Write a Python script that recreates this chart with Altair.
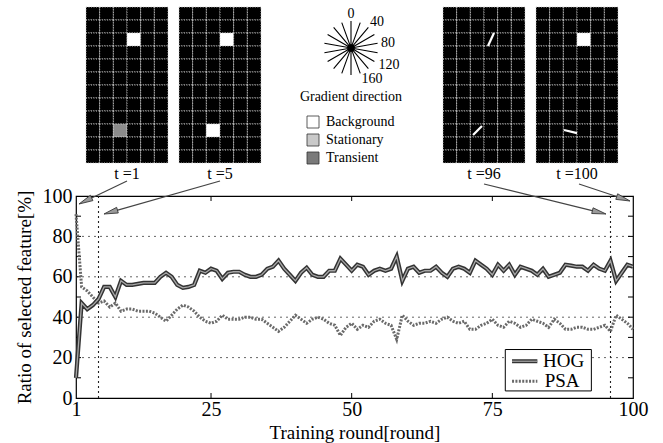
import math
import altair as alt
import pandas as pd

# ---------------- data ----------------
ROUNDS = list(range(1, 101))
HOG = [10, 47, 44, 46, 49, 55, 55, 50, 58, 56,
       56, 56.5, 57, 57, 57, 60, 62, 60, 56, 54.5,
       55, 56, 63, 62, 64, 63, 59, 62, 62.5, 62.5,
       61, 60, 60, 61, 64, 65, 68, 64, 61, 58,
       62, 64.5, 61, 60, 60, 63, 63, 69, 66, 63,
       66, 65, 61, 63, 64, 63, 64, 70, 58, 64,
       65, 62, 63, 63, 65, 62, 60, 64, 65, 64,
       62, 68, 66, 64, 61, 66, 63, 66, 61, 65,
       64, 63, 61, 64, 60, 61, 62, 66, 65.5, 65,
       65, 63, 66, 64, 63, 68, 58, 62, 66, 65]
PSA = [91, 55, 53, 50, 47, 48, 45, 47, 43, 44,
       44, 43, 43, 43, 42, 40, 38, 41, 44, 46,
       45, 43, 40, 38, 37, 38, 41, 39, 39, 39,
       40, 40, 39, 39, 37, 35, 33, 35, 38, 41,
       39, 37, 39, 40, 39, 37, 36, 31, 35, 37,
       34, 36, 35, 38, 39, 37, 36, 29, 41, 38,
       36, 37, 37, 38, 37, 39, 40, 38, 37, 38,
       34, 34, 36, 37, 39, 36, 35, 38, 37, 35,
       36, 39, 38, 37, 35, 39, 37, 34, 34, 35,
       35, 34, 34, 35, 36, 33, 41, 39, 37, 34]
SERIES = ["HOG", "PSA"]
X_TICKS = [1, 25, 50, 75, 100]
Y_TICKS = [0, 20, 40, 60, 80, 100]
GRID_Y = [20, 40, 60, 80]
MARK_ROUNDS = [5, 96]
MINOR_Y = [10, 20, 30, 40, 50, 60, 70, 80, 90]
MINOR_X = [25, 50, 75]

IMG_LABELS = ["t =1", "t =5", "t =96", "t =100"]
LEGEND_ITEMS = ["Background", "Stationary", "Transient"]
LEGEND_FILLS = ["white", "#c9c9c9", "#7a7a7a"]
GRAD_LABELS = ["0", "40", "80", "120", "160"]
GRAD_ANGLES = [0, 20, 40, 60, 80, 100, 120, 140, 160]

FONT = "Liberation Serif"

# ---------------- layout (pixels of the 663x443 page) ----------------
PL, PR, PT, PB = 76, 633, 196, 398
W, H = PR - PL, PB - PT


def xd(px):
    return 1 + (px - PL) * 99 / W


def yd(py):
    return (PB - py) * 100 / H


xs = alt.Scale(domain=[1, 100], nice=False, zero=False)
ys = alt.Scale(domain=[0, 100], nice=False, zero=False)

X_AXIS = alt.Axis(values=X_TICKS, title="Training round[round]", ticks=False, domain=False,
                  grid=False, labelFontSize=20, labelFont=FONT, labelColor="black",
                  labelPadding=1, labelFlush=False, format="d",
                  titleFont=FONT, titleFontSize=19, titleFontWeight="normal",
                  titleColor="black", titlePadding=4)
Y_AXIS = alt.Axis(values=Y_TICKS, title="Ratio of selected feature[%]", ticks=False,
                  domain=False, grid=False, labelFontSize=20, labelFont=FONT,
                  labelColor="black", labelPadding=4, labelFlush=False, format="d",
                  titleFont=FONT, titleFontSize=19, titleFontWeight="normal",
                  titleColor="black", titlePadding=8)


def XE(f="x"):
    return alt.X(f"{f}:Q", scale=xs, axis=X_AXIS)


def YE(f="y"):
    return alt.Y(f"{f}:Q", scale=ys, axis=Y_AXIS)


layers = []

# grid lines
df_grid = pd.DataFrame({"y": GRID_Y, "x": 1, "x2": 100})
layers.append(alt.Chart(df_grid).mark_rule(color="#555", strokeDash=[2, 4], strokeWidth=0.9)
              .encode(x=XE(), x2="x2:Q", y=YE()))

# vertical dashed markers
df_vm = pd.DataFrame({"x": MARK_ROUNDS, "y": 0, "y2": 100})
layers.append(alt.Chart(df_vm).mark_rule(color="#222", strokeDash=[2, 3], strokeWidth=1.1)
              .encode(x=XE(), y=YE(), y2="y2:Q"))

# inner ticks
tick_len_x = 5 * 99 / W
tick_len_y = 5 * 100 / H
df_ty = pd.DataFrame({"y": MINOR_Y * 2,
                      "x": [1] * len(MINOR_Y) + [100 - tick_len_x] * len(MINOR_Y)})
df_ty["x2"] = df_ty["x"] + tick_len_x
layers.append(alt.Chart(df_ty).mark_rule(color="black", strokeWidth=1)
              .encode(x=XE(), x2="x2:Q", y=YE()))
df_tx = pd.DataFrame({"x": MINOR_X * 2,
                      "y": [0] * len(MINOR_X) + [100 - tick_len_y] * len(MINOR_X)})
df_tx["y2"] = df_tx["y"] + tick_len_y
layers.append(alt.Chart(df_tx).mark_rule(color="black", strokeWidth=1)
              .encode(x=XE(), y=YE(), y2="y2:Q"))

# series
df_hog = pd.DataFrame({"x": ROUNDS, "y": HOG})
df_psa = pd.DataFrame({"x": ROUNDS, "y": PSA})
layers.append(alt.Chart(df_psa).mark_line(color="#6a6a6a", strokeWidth=3, strokeDash=[2, 1.4])
              .encode(x=XE(), y=YE()))
layers.append(alt.Chart(df_hog).mark_line(color="#333", strokeWidth=4.2)
              .encode(x=XE(), y=YE()))
layers.append(alt.Chart(df_hog).mark_line(color="#a8a8a8", strokeWidth=1.3)
              .encode(x=XE(), y=YE()))

# in-plot legend
LEG_BOX = dict(x=77.3, x2=92.6, y=3.5, y2=24)
layers.append(alt.Chart(pd.DataFrame([LEG_BOX])).mark_rect(fill="white", stroke="black", strokeWidth=1)
              .encode(x=XE(), x2="x2:Q", y=YE(), y2="y2:Q"))
LEG_Y = [18.2, 8.3]
df_ls = pd.DataFrame({"x": [78.5, 83.0], "y": LEG_Y[0]})
layers.append(alt.Chart(df_ls).mark_line(color="#333", strokeWidth=4).encode(x=XE(), y=YE()))
layers.append(alt.Chart(df_ls).mark_line(color="#a8a8a8", strokeWidth=1.2).encode(x=XE(), y=YE()))
df_lp = pd.DataFrame({"x": [78.5, 83.0], "y": LEG_Y[1]})
layers.append(alt.Chart(df_lp).mark_line(color="#6a6a6a", strokeWidth=3, strokeDash=[2, 1.4])
              .encode(x=XE(), y=YE()))
df_lt = pd.DataFrame({"x": [84.0, 84.3], "y": LEG_Y, "t": SERIES})
layers.append(alt.Chart(df_lt).mark_text(font=FONT, fontSize=19, align="left", baseline="middle",
                                         color="black")
              .encode(x=XE(), y=YE(), text="t:N"))

# ---------------- top pictures ----------------
IMG_LEFT_PX = [86, 179, 443, 536]
IMG_TOP_PX, IMG_W_PX, IMG_H_PX = 7, 82, 156
N_COLS, N_ROWS = 6, 12
SPECIAL = {(0, 3, 2): "white", (0, 2, 9): "#8c8c8c",
           (1, 3, 2): "white", (1, 2, 9): "white",
           (3, 3, 2): "white"}
cw, ch = IMG_W_PX / N_COLS, IMG_H_PX / N_ROWS
rows = []
for i, lx in enumerate(IMG_LEFT_PX):
    for c in range(N_COLS):
        for r in range(N_ROWS):
            rows.append({"x": xd(lx + c * cw), "x2": xd(lx + (c + 1) * cw),
                         "y": yd(IMG_TOP_PX + r * ch), "y2": yd(IMG_TOP_PX + (r + 1) * ch),
                         "fill": SPECIAL.get((i, c, r), "black")})
df_cells = pd.DataFrame(rows)
layers.append(alt.Chart(df_cells).mark_rect(stroke="#d0d0d0", strokeWidth=1, strokeDash=[1, 1.5])
              .encode(x=XE(), x2="x2:Q", y=YE(), y2="y2:Q",
                      fill=alt.Fill("fill:N", scale=None)))

GRAD_SEGMENTS = [(2, 3, 2, 0.29, 1.0, 0.73, 0.0),
                 (2, 2, 9, 0.2, 0.85, 0.85, 0.15),
                 (3, 2, 9, 0.05, 0.46, 1.0, 0.7)]
seg = []
for (i, c, r, fx1, fy1, fx2, fy2) in GRAD_SEGMENTS:
    lx = IMG_LEFT_PX[i] + c * cw
    ty = IMG_TOP_PX + r * ch
    seg.append({"x": xd(lx + fx1 * cw), "y": yd(ty + fy1 * ch),
                "x2": xd(lx + fx2 * cw), "y2": yd(ty + fy2 * ch)})
layers.append(alt.Chart(pd.DataFrame(seg)).mark_rule(color="white", strokeWidth=2.2)
              .encode(x=XE(), x2="x2:Q", y=YE(), y2="y2:Q"))

df_il = pd.DataFrame({"x": [xd(lx + IMG_W_PX / 2) for lx in IMG_LEFT_PX],
                      "y": yd(174), "t": IMG_LABELS})
layers.append(alt.Chart(df_il).mark_text(font=FONT, fontSize=16, baseline="middle", color="black")
              .encode(x=XE(), y=YE(), text="t:N"))

# gradient direction star
STAR_C = (351, 48)
STAR_R = 27
path = "".join(
    "M{:.3f},{:.3f}L{:.3f},{:.3f}".format(-math.sin(math.radians(a)), math.cos(math.radians(a)),
                                          math.sin(math.radians(a)), -math.cos(math.radians(a)))
    for a in GRAD_ANGLES)
df_star = pd.DataFrame({"x": [xd(STAR_C[0])], "y": [yd(STAR_C[1])]})
layers.append(alt.Chart(df_star).mark_point(shape=path, size=(2 * STAR_R) ** 2, filled=False,
                                            color="black", strokeWidth=1.1, opacity=1)
              .encode(x=XE(), y=YE()))
layers.append(alt.Chart(df_star).mark_point(shape="circle", size=55, filled=True, color="black",
                                            opacity=1)
              .encode(x=XE(), y=YE()))
GRAD_LABEL_PX = [(351, 14), (377, 22), (388, 43), (389, 65), (372, 79)]
df_gl = pd.DataFrame({"x": [xd(p[0]) for p in GRAD_LABEL_PX],
                      "y": [yd(p[1]) for p in GRAD_LABEL_PX], "t": GRAD_LABELS})
layers.append(alt.Chart(df_gl).mark_text(font=FONT, fontSize=14, baseline="middle", color="black")
              .encode(x=XE(), y=YE(), text="t:N"))
df_gt = pd.DataFrame({"x": [xd(351)], "y": [yd(97)], "t": ["Gradient direction"]})
layers.append(alt.Chart(df_gt).mark_text(font=FONT, fontSize=14, baseline="middle", color="black")
              .encode(x=XE(), y=YE(), text="t:N"))

# picture legend
LEG_ROWS_PX = [122, 140, 158]
df_pb = pd.DataFrame({"x": xd(307), "x2": xd(319),
                      "y": [yd(p + 6) for p in LEG_ROWS_PX], "y2": [yd(p - 6) for p in LEG_ROWS_PX],
                      "fill": LEGEND_FILLS})
layers.append(alt.Chart(df_pb).mark_rect(stroke="#333", strokeWidth=0.8)
              .encode(x=XE(), x2="x2:Q", y=YE(), y2="y2:Q", fill=alt.Fill("fill:N", scale=None)))
df_pt = pd.DataFrame({"x": xd(326), "y": [yd(p) for p in LEG_ROWS_PX], "t": LEGEND_ITEMS})
layers.append(alt.Chart(df_pt).mark_text(font=FONT, fontSize=14, align="left", baseline="middle",
                                         color="black")
              .encode(x=XE(), y=YE(), text="t:N"))

# arrows from pictures to the plot
ARROWS_PX = [((127, 181), (79, 204)), ((220, 181), (104, 214)),
             ((484, 184), (606, 214)), ((579, 184), (630, 201))]
shafts, heads = [], []
HEAD_R = 7
for (sx, sy), (tx, ty) in ARROWS_PX:
    dx, dy = tx - sx, ty - sy
    L = math.hypot(dx, dy)
    cx, cy = tx - dx / L * HEAD_R, ty - dy / L * HEAD_R
    ang = math.degrees(math.atan2(dx, -dy)) % 360
    shafts.append({"x": xd(sx), "y": yd(sy), "x2": xd(cx), "y2": yd(cy)})
    heads.append({"x": xd(cx), "y": yd(cy), "a": ang})
layers.append(alt.Chart(pd.DataFrame(shafts)).mark_rule(color="#444", strokeWidth=1.2)
              .encode(x=XE(), x2="x2:Q", y=YE(), y2="y2:Q"))
layers.append(alt.Chart(pd.DataFrame(heads))
              .mark_point(shape="M0,-1L0.42,1L-0.42,1Z", size=(2 * HEAD_R) ** 2, filled=True,
                          fill="#9a9a9a", stroke="#333", strokeWidth=0.8, opacity=1)
              .encode(x=XE(), y=YE(), angle=alt.Angle("a:Q", scale=None)))

chart = (alt.layer(*layers)
         .properties(width=W, height=H,
                     padding={"left": PL, "top": PT, "right": 663 - PR, "bottom": 443 - PB},
                     autosize=alt.AutoSizeParams(type="none"), background="white")
         .configure_view(stroke="black", strokeWidth=1.2)
         .configure_text(font=FONT))

chart.save("out.html", embed_options={"renderer": "svg", "actions": False})
